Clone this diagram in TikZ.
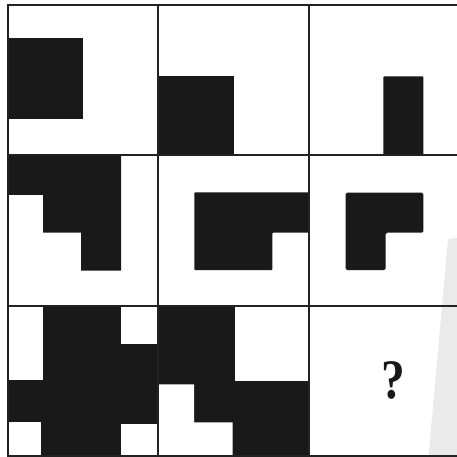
\documentclass[tikz,border=0pt]{standalone}
\usepackage{fontspec}
\newfontfamily\qfont{Liberation Serif}
\begin{document}
\begin{tikzpicture}[x=1bp,y=-1bp]
\definecolor{ink}{HTML}{191919}
\definecolor{gridc}{HTML}{222222}
\definecolor{wedgegrey}{HTML}{EAEAEA}
\tikzset{blk/.style={fill=ink,draw=none},
         wht/.style={fill=white,draw=none},
         gridline/.style={draw=gridc,line width=2bp}}
\useasboundingbox (0,0) rectangle (457,457);
\clip (0,0) rectangle (457,457);
\fill[white] (0,0) rectangle (457,457);
% shadow wedge
\fill[wedgegrey] (448,239) -- (457,238) -- (457,457) -- (428.5,457) -- cycle;
% row 1
\fill[blk] (7.5,38.5) rectangle (83,119);
\fill[blk] (158,76.5) rectangle (234,155.5);
\fill[blk,rounded corners=0.8bp] (383.3,76.5) rectangle (423.3,156);
% row 2
\fill[blk] (7.5,155.5) -- (121,155.5) -- (121,270.7) -- (81,270.7) -- (81,232.7) -- (43,232.7) -- (43,195) -- (7.5,195) -- cycle;
\fill[blk,rounded corners=0.8bp] (194.3,192.5) -- (309,192.5) -- (309,232.7) -- (272.3,232.7) -- (272.3,270) -- (194.3,270) -- cycle;
\fill[blk,rounded corners=1.5bp] (345.7,192.7) -- (423.3,192.7) -- (423.3,232.7) -- (385.7,232.7) -- (385.7,270) -- (345.7,270) -- cycle;
% row 3, cell 1
\fill[blk] (7.5,305.5) rectangle (158,455.5);
\fill[wht] (7.5,305.5) rectangle (42.7,380);
\fill[wht] (121,305.5) rectangle (158,343.7);
\fill[wht] (7.5,422.3) rectangle (41.3,455.5);
\fill[wht] (121,424.3) rectangle (158,455.5);
% row 3, cell 2
\fill[blk] (158,305.5) rectangle (309,455.5);
\fill[wht] (235.3,305.5) rectangle (309,381);
\fill[wht] (158,384.3) -- (194,384.3) -- (194,422.3) -- (232.7,422.3) -- (232.7,455.5) -- (158,455.5) -- cycle;
% question mark
\node[text=ink,font=\qfont\bfseries\fontsize{56}{64}\selectfont,inner sep=0pt,xscale=0.85] (q) at (393.5,380) {?};
% grid
\draw[gridline] (7.5,5.5) rectangle (459.5,455.5);
\draw[gridline] (158,5.5) -- (158,455.5);
\draw[gridline] (309,5.5) -- (309,455.5);
\draw[gridline] (7.5,155.5) -- (459.5,155.5);
\draw[gridline] (7.5,305.5) -- (459.5,305.5);
\end{tikzpicture}
\end{document}
